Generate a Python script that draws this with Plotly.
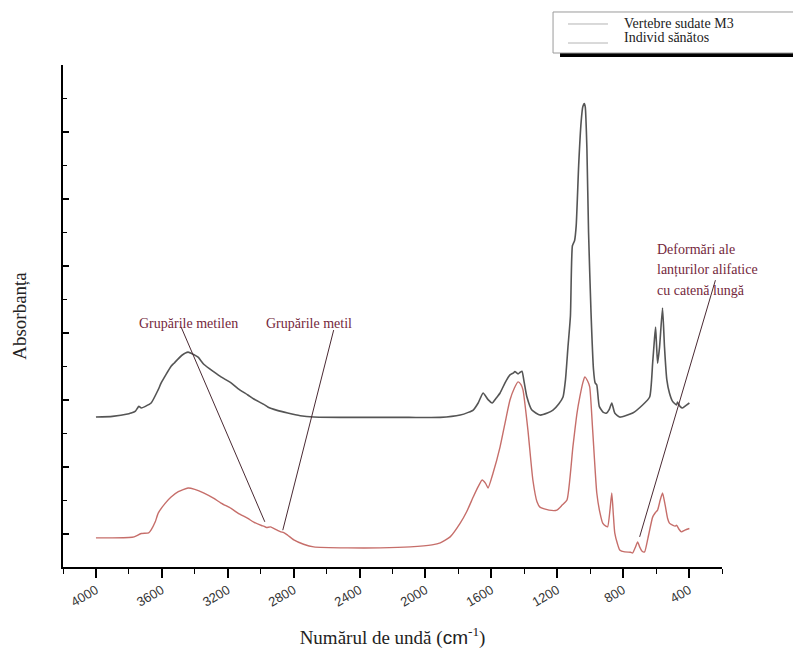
import plotly.graph_objects as go

# ---- data ----
wn_healthy = [4000, 3900, 3800, 3786, 3760, 3740, 3725, 3700, 3665, 3622, 3604, 3544, 3526, 3480,
              3441, 3400, 3380, 3344, 3284, 3241, 3180, 3138, 3078, 3042, 2981, 2957, 2900, 2836,
              2760, 2678, 2500, 2300, 2100, 1910, 1789, 1740, 1710, 1680, 1650, 1620, 1595, 1570,
              1547, 1517, 1487, 1465, 1457, 1438, 1425, 1414, 1400, 1384, 1354, 1305, 1260, 1226,
              1190, 1165, 1150, 1135, 1120, 1108, 1095, 1085, 1070, 1055, 1045, 1036, 1030, 1020, 1010,
              995, 980, 970, 960, 945, 920, 900, 885, 869, 851, 821, 742, 682, 639, 621, 610, 603,
              597, 591, 579, 561, 549, 535, 519, 500, 476, 470, 455, 440, 420, 398]
abs_healthy = [4.48, 4.50, 4.58, 4.60, 4.66, 4.80, 4.75, 4.80, 4.90, 5.30, 5.50, 6.00, 6.09, 6.32,
               6.42, 6.33, 6.27, 6.05, 5.83, 5.68, 5.50, 5.33, 5.14, 5.02, 4.86, 4.78, 4.68, 4.60,
               4.52, 4.48, 4.47, 4.47, 4.47, 4.47, 4.54, 4.62, 4.69, 4.90, 5.20, 5.00, 4.90, 5.05,
               5.20, 5.50, 5.74, 5.80, 5.84, 5.77, 5.82, 5.85, 5.50, 5.08, 4.69, 4.54, 4.60, 4.69,
               4.88, 5.08, 5.60, 6.57, 7.50, 9.60, 9.75, 10.20, 12.00, 13.30, 13.75, 13.85, 13.75, 12.50, 10.00,
               7.60, 5.90, 5.50, 5.44, 4.80, 4.62, 4.60, 4.70, 4.90, 4.60, 4.48, 4.60, 4.84, 5.08, 6.09, 6.80, 7.17,
               6.60, 6.09, 6.57, 7.74, 6.57, 5.60, 5.20, 4.95, 4.84, 4.93, 4.80, 4.75, 4.82, 4.90]

wn_m3 = [4000, 3900, 3800, 3768, 3725, 3680, 3665, 3640, 3622, 3580, 3544, 3500, 3441, 3400, 3344,
         3284, 3241, 3180, 3138, 3078, 3042, 2995, 2981, 2965, 2940, 2900, 2878, 2860, 2836, 2799,
         2740, 2678, 2473, 2274, 2092, 1960, 1910, 1850, 1789, 1750, 1710, 1680, 1656, 1635, 1620,
         1590, 1547, 1517, 1487, 1460, 1438, 1420, 1408, 1378, 1348, 1323, 1305, 1250, 1202, 1170,
         1141, 1105, 1080, 1063, 1045, 1033, 1015, 1003, 985, 960, 940, 924, 905, 894, 880, 869,
         860, 851, 835, 821, 790, 755, 742, 725, 712, 700, 685, 670, 650, 621, 605, 591, 575, 561,
         545, 530, 519, 500, 485, 476, 460, 446, 425, 398]
abs_m3 = [0.87, 0.87, 0.88, 0.90, 1.00, 1.02, 1.11, 1.35, 1.61, 1.90, 2.09, 2.25, 2.36, 2.32, 2.21,
          2.05, 1.91, 1.75, 1.61, 1.45, 1.34, 1.24, 1.22, 1.18, 1.20, 1.10, 1.05, 1.03, 0.95, 0.81,
          0.68, 0.60, 0.57, 0.57, 0.60, 0.66, 0.72, 0.90, 1.31, 1.65, 2.09, 2.40, 2.60, 2.50, 2.36,
          2.80, 3.59, 4.30, 4.99, 5.35, 5.53, 5.45, 5.29, 4.09, 2.60, 1.95, 1.79, 1.70, 1.70, 1.85,
          2.00, 3.59, 4.60, 5.08, 5.50, 5.68, 5.55, 5.38, 4.09, 2.21, 1.60, 1.31, 1.22, 1.20, 1.70, 2.21,
          1.60, 1.02, 0.70, 0.51, 0.45, 0.44, 0.42, 0.60, 0.75, 0.60, 0.47, 0.45, 0.85, 1.49, 1.62, 1.70, 2.00, 2.21,
          1.85, 1.45, 1.31, 1.25, 1.22, 1.25, 1.12, 1.05, 1.10, 1.15]

series_names = ["Vertebre sudate M3", "Individ sănătos"]
x_tick_vals = [4000, 3600, 3200, 2800, 2400, 2000, 1600, 1200, 800, 400]
x_tick_text = [str(v) for v in x_tick_vals]

ann_labels = ["Grupările metilen", "Grupările metil"]
ann_deform = ["Deformări ale", "lanțurilor alifatice", "cu catenă lungă"]

# ---- styles ----
SERIF = "Liberation Serif, Times New Roman, serif"
SANS = "Liberation Sans, Arial, sans-serif"
C_HEALTHY = "#555555"
C_M3 = "#c66e6a"
C_ANN = "#74283c"
C_LEG = "#b4b4b4"

fig = go.Figure()
fig.add_trace(go.Scatter(x=wn_healthy, y=abs_healthy, mode="lines", name=series_names[1],
                         line=dict(color=C_HEALTHY, width=1.6, shape="spline", smoothing=0.5),
                         showlegend=False))
fig.add_trace(go.Scatter(x=wn_m3, y=abs_m3, mode="lines", name=series_names[0],
                         line=dict(color=C_M3, width=1.4, shape="spline", smoothing=0.5),
                         showlegend=False))

shapes = []
# legend box (partly outside the page on the right, as in the reference)
shapes.append(dict(type="rect", xref="paper", yref="paper", x0=0.7542, x1=1.13, y0=1.0159, y1=1.0239,
                   fillcolor="black", line=dict(width=0)))
shapes.append(dict(type="rect", xref="paper", yref="paper", x0=0.7436, x1=1.13, y0=1.0239, y1=1.1056,
                   fillcolor="white", line=dict(color="#9a9a9a", width=1)))
for yl in (1.0817, 1.0438):
    shapes.append(dict(type="line", xref="paper", yref="paper", x0=0.7663, x1=0.827, y0=yl, y1=yl,
                       line=dict(color=C_LEG, width=1)))

# annotation leader lines
leaders = [((3483, 7.17), (2975, 1.35)),
           ((2557, 7.08), (2866, 1.10)),
           ((240, 8.57), (700, 0.90))]
for (x0, y0), (x1, y1) in leaders:
    shapes.append(dict(type="line", xref="x", yref="y", x0=x0, y0=y0, x1=x1, y1=y1,
                       line=dict(color="#4a2a33", width=1)))

annotations = []
for txt, yl in zip(series_names, (1.0817, 1.0538)):
    annotations.append(dict(text=txt, xref="paper", yref="paper", x=0.8483, y=yl, xanchor="left",
                            yanchor="middle", showarrow=False, font=dict(family=SERIF, size=14, color="#222")))
annotations.append(dict(text=ann_labels[0], x=3441, y=7.29, xref="x", yref="y", showarrow=False,
                        font=dict(family=SERIF, size=14, color=C_ANN)))
annotations.append(dict(text=ann_labels[1], x=2709, y=7.29, xref="x", yref="y", showarrow=False,
                        font=dict(family=SERIF, size=14, color=C_ANN)))
for txt, yv in zip(ann_deform, (9.50, 8.87, 8.25)):
    annotations.append(dict(text=txt, x=609, y=yv, xref="x", yref="y", xanchor="left", showarrow=False,
                            font=dict(family=SERIF, size=14, color=C_ANN)))

fig.update_layout(
    width=793, height=660,
    margin=dict(l=63, r=71, t=65, b=93),
    paper_bgcolor="white", plot_bgcolor="white",
    showlegend=False,
    shapes=shapes, annotations=annotations,
    xaxis=dict(range=[4200, 200], showgrid=False, zeroline=False,
               showline=True, linecolor="black", linewidth=1.5,
               ticks="outside", ticklen=9, tickwidth=1.5, tickcolor="black",
               tickvals=x_tick_vals, ticktext=x_tick_text, tickangle=-30,
               tickfont=dict(family=SANS, size=13, color="#333"),
               minor=dict(ticks="outside", ticklen=5, tickwidth=1.2, tickcolor="black", dtick=200),
               title=dict(text="Numărul de undă (<span style='font-family:Liberation Sans'>cm</span><sup>-1</sup>)",
                          font=dict(family=SERIF, size=19, color="#222"), standoff=22)),
    yaxis=dict(range=[0, 15], showgrid=False, zeroline=False,
               showline=True, linecolor="black", linewidth=1.5,
               ticks="inside", ticklen=6, tickwidth=1.5, tickcolor="black",
               tick0=1, dtick=2, showticklabels=False,
               minor=dict(ticks="inside", ticklen=4, tickwidth=1.2, tickcolor="black", dtick=1),
               title=dict(text="Absorbanța", font=dict(family=SERIF, size=19, color="#222"), standoff=30)),
)

fig.write_html("out.html")
